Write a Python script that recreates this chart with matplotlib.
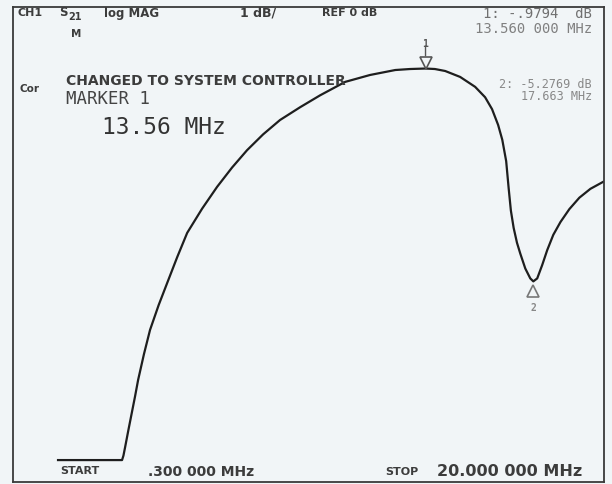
import matplotlib
matplotlib.use("Agg")
import matplotlib.pyplot as plt

# Trace: frequency (MHz) and S21 magnitude (dB)
freq_mhz = [0.30, 1.50, 2.61, 2.66, 2.72, 2.84, 2.96, 3.08, 3.19, 3.40, 3.62, 3.93,
            4.24, 4.60, 4.96, 5.50, 6.04, 6.58, 7.12, 7.70, 8.31, 9.04, 9.76, 10.66,
            11.56, 12.47, 13.00, 13.56, 13.90, 14.27, 14.81, 15.35, 15.71, 15.96,
            16.18, 16.33, 16.47, 16.56, 16.64, 16.74, 16.86, 16.98, 17.16, 17.34, 17.45,
            17.59, 17.77, 17.95, 18.17, 18.43, 18.75, 19.11, 19.51, 20.00]
s21_db = [-8.89, -8.89, -8.89, -8.80, -8.63, -8.28, -7.94, -7.60, -7.27, -6.75, -6.26, -5.76,
          -5.31, -4.79, -4.30, -3.81, -3.37, -2.98, -2.63, -2.31, -2.02, -1.76, -1.52, -1.25,
          -1.11, -1.01, -0.99, -0.98, -0.99, -1.03, -1.15, -1.35, -1.56, -1.80,
          -2.12, -2.42, -2.85, -3.40, -3.85, -4.20, -4.50, -4.72, -5.02, -5.22, -5.28,
          -5.22, -4.95, -4.65, -4.34, -4.08, -3.82, -3.59, -3.41, -3.26]

marker_freq = [13.56, 17.45]
marker_db = [-0.9794, -5.2769]
marker_names = ["1", "2"]

W, H = 612, 484
fig = plt.figure(figsize=(W / 100, H / 100), dpi=100)
bg = "#f1f5f7"
fig.patch.set_facecolor(bg)

ax = fig.add_axes([13 / W, 1 - 482 / H, (604 - 13) / W, (482 - 7) / H])
ax.set_facecolor(bg)
ax.plot(freq_mhz, s21_db, color="#1e1e1e", lw=1.6, solid_joinstyle="round")
ax.set_xlim(-1.325, 20.0)
ax.set_ylim(-9.333, 0.263)
ax.set_xticks([])
ax.set_yticks([])
for s in ax.spines.values():
    s.set_color("#3a3a3a")
    s.set_linewidth(1.3)

# markers
ax.plot([marker_freq[0]], [marker_db[0] + 0.12], marker="v", ms=9, mfc="none",
        mec="#555555", mew=1.2, linestyle="none")
ax.annotate(marker_names[0], (marker_freq[0], marker_db[0]), xytext=(0, 14),
            textcoords="offset points", ha="center", va="bottom", fontsize=7,
            family="DejaVu Sans Mono", fontweight="bold", color="#555555")
ax.annotate("", (marker_freq[0], marker_db[0] + 0.2), xytext=(0, 11),
            textcoords="offset points",
            arrowprops=dict(arrowstyle="-", color="#555555", lw=1))
ax.plot([marker_freq[1]], [marker_db[1] - 0.2], marker="^", ms=9, mfc="none",
        mec="#777777", mew=1.2, linestyle="none")
ax.annotate(marker_names[1], (marker_freq[1], marker_db[1]), xytext=(0, -16),
            textcoords="offset points", ha="center", va="top", fontsize=7,
            family="DejaVu Sans Mono", fontweight="bold", color="#888888")


def t(x, y, s, size=9, weight="bold", color="#3c3c3c", ha="left", fam="DejaVu Sans"):
    fig.text(x / W, 1 - y / H, s, fontsize=size, fontweight=weight, color=color,
             family=fam, ha=ha, va="center")


MONO = "DejaVu Sans Mono"
t(18, 13, "CH1", 8)
t(59, 13, "S", 8.5)
t(68, 17, "21", 7)
t(104, 13, "log MAG", 8.5)
t(240, 13, "1 dB/", 9)
t(322, 13, "REF 0 dB", 8)
t(592, 14, "1: -.9794  dB", 10, weight="normal", color="#707070", ha="right", fam=MONO)
t(592, 29, "13.560 000 MHz", 10, weight="normal", color="#808080", ha="right", fam=MONO)
t(71, 34, "M", 7.5)
t(20, 89, "Cor", 7.5)
t(66, 81, "CHANGED TO SYSTEM CONTROLLER", 10)
t(66, 99, "MARKER 1", 12.5, weight="normal", color="#444444", fam=MONO)
t(102, 128, "13.56 MHz", 16.5, weight="normal", color="#333333", fam=MONO)
t(592, 84, "2: -5.2769 dB", 8.5, weight="normal", color="#888888", ha="right", fam=MONO)
t(592, 96, "17.663 MHz", 8.5, weight="normal", color="#888888", ha="right", fam=MONO)
t(60, 471, "START", 8)
t(148, 472, ".300 000 MHz", 10)
t(385, 472, "STOP", 8)
t(437, 472, "20.000 000 MHz", 11.5)

fig.savefig("out.png", dpi=100, facecolor=bg)
